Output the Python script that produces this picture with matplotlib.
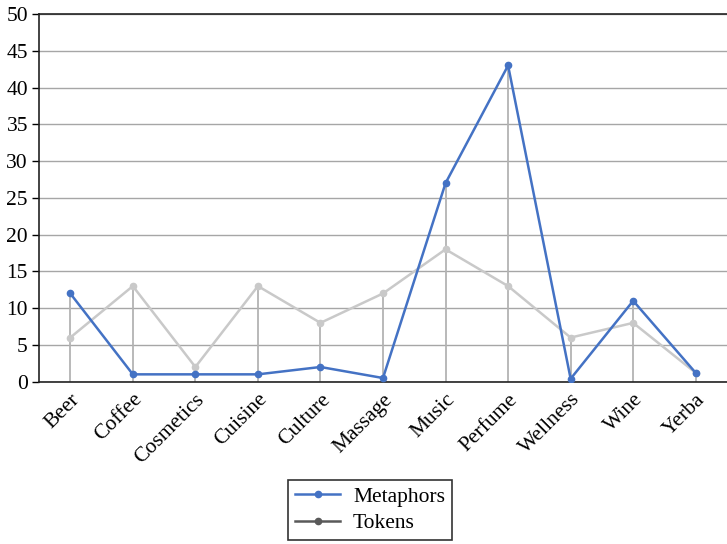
import matplotlib.pyplot as plt
from matplotlib.lines import Line2D
import numpy as np

plt.rcParams['font.family'] = ['Liberation Serif', 'DejaVu Serif']

categories = ['Beer', 'Coffee', 'Cosmetics', 'Cuisine', 'Culture', 'Massage',
              'Music', 'Perfume', 'Wellness', 'Wine', 'Yerba']
metaphors = [12, 1, 1, 1, 2, 0.5, 27, 43, 0.4, 11, 1.2]
tokens = [6, 13, 2, 13, 8, 12, 18, 13, 6, 8, 1.2]

blue = '#4472c4'
light_gray = '#c9c9c9'
dark_gray = '#595959'

fig = plt.figure(figsize=(7.27, 5.44), dpi=100)
ax = fig.add_axes([39 / 727, 1 - 381.7 / 544, 688 / 727, (381.7 - 14) / 544])

x = np.arange(len(categories))

# drop lines from the higher of the two series down to the axis
tops = np.maximum(metaphors, tokens)
ax.vlines(x, 0, tops, color='#b3b3b3', lw=1.3, zorder=1)

ax.plot(x, tokens, color=light_gray, lw=1.8, marker='o', ms=4.5, zorder=2)
ax.plot(x, metaphors, color=blue, lw=1.8, marker='o', ms=4.5, zorder=3)

ax.set_xlim(-0.5, len(categories) - 0.5)
ax.set_ylim(0, 50)
ax.set_yticks(range(0, 51, 5))
ax.yaxis.grid(True, color='#a6a6a6', lw=1)
ax.set_axisbelow(True)

ax.set_xticks(x)
ax.set_xticklabels(categories, rotation=45, ha='right', rotation_mode='anchor')
ax.tick_params(axis='x', length=0, pad=6, labelsize=15.5)
ax.tick_params(axis='y', length=5, width=1, pad=3, labelsize=15.5, color='black')

for side in ['left', 'bottom', 'top']:
    ax.spines[side].set_color('#222222')
    ax.spines[side].set_linewidth(1.2)
ax.spines['right'].set_visible(False)

handles = [
    Line2D([], [], color=blue, lw=1.8, marker='o', ms=4.5),
    Line2D([], [], color=dark_gray, lw=1.8, marker='o', ms=4.5),
]
leg = fig.legend(handles, ['Metaphors', 'Tokens'], loc='center',
                 bbox_to_anchor=(370 / 727, 1 - 510 / 544), fontsize=15.5,
                 frameon=True, fancybox=False, edgecolor='black',
                 handlelength=2.1, handletextpad=0.6, borderpad=0.3,
                 borderaxespad=0, labelspacing=0.3)
leg.get_frame().set_linewidth(1.2)

fig.savefig('out.png', dpi=100)
